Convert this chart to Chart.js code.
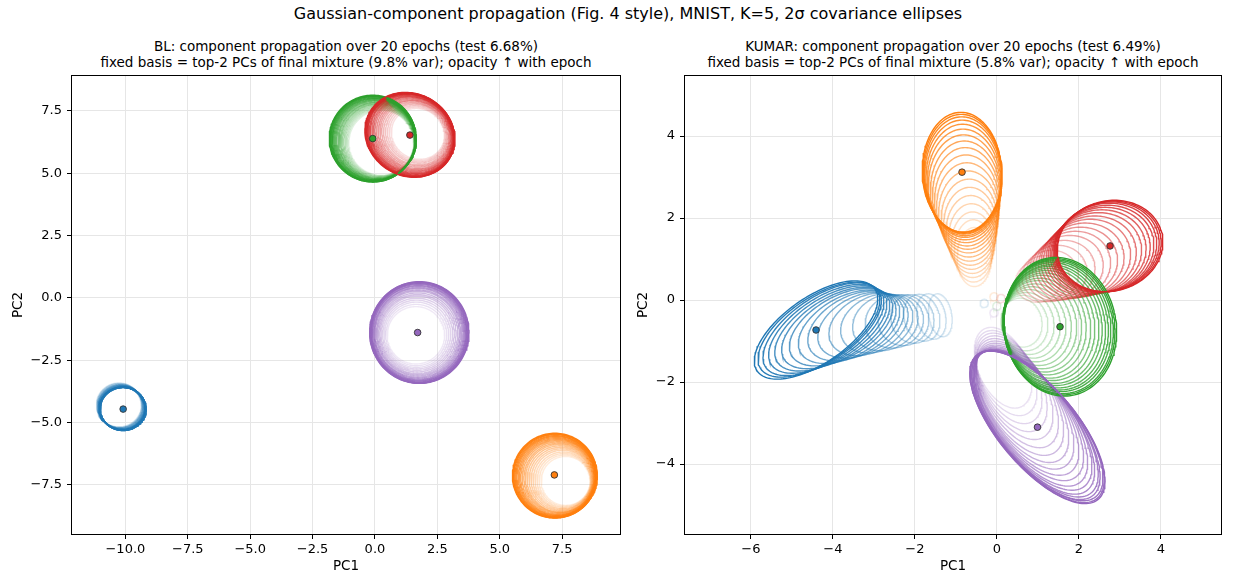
<!DOCTYPE html>
<html><head><meta charset="utf-8">
<script src="https://cdn.jsdelivr.net/npm/chart.js@4/dist/chart.umd.min.js"></script>
<style>
body{margin:0;background:#fff;width:1238px;height:575px;overflow:hidden;position:relative;font-family:"DejaVu Sans",sans-serif;}
canvas{position:absolute;top:0;}
.t{position:absolute;white-space:nowrap;transform:translateX(-50%);text-align:center;color:#000;}
</style></head><body>
<div class="t" style="left:628px;top:4px;font-size:16px;line-height:19px;">Gaussian-component propagation (Fig. 4 style), MNIST, K=5, 2σ covariance ellipses</div>
<div class="t" style="left:346px;top:39px;font-size:13.5px;line-height:15.5px;">BL: component propagation over 20 epochs (test 6.68%)<br>fixed basis = top-2 PCs of final mixture (9.8% var); opacity ↑ with epoch</div>
<div class="t" style="left:953px;top:39px;font-size:13.5px;line-height:15.5px;">KUMAR: component propagation over 20 epochs (test 6.49%)<br>fixed basis = top-2 PCs of final mixture (5.8% var); opacity ↑ with epoch</div>
<canvas id="c1" width="640" height="575" style="left:0"></canvas>
<canvas id="c2" width="610" height="575" style="left:628px"></canvas>
<script>
const EPOCHS = 20;
const componentColors = ['#1f77b4','#ff7f0e','#2ca02c','#d62728','#9467bd'];
const blXTicks = [-10,-7.5,-5,-2.5,0,2.5,5,7.5];
const blYTicks = [-7.5,-5,-2.5,0,2.5,5,7.5];
const kuXTicks = [-6,-4,-2,0,2,4];
const kuYTicks = [-4,-2,0,2,4];

// each row: [centre PC1, centre PC2, semi-axis a, semi-axis b, angle of a (deg)], one row per epoch
const blBlue = [
[-10.26,-4.29,0.90,0.88,0],[-10.25,-4.31,0.90,0.88,0],[-10.23,-4.32,0.90,0.88,0],[-10.22,-4.34,0.90,0.87,0],
[-10.20,-4.35,0.90,0.87,0],[-10.19,-4.36,0.90,0.87,0],[-10.18,-4.38,0.91,0.87,0],[-10.16,-4.39,0.91,0.87,0],
[-10.15,-4.40,0.91,0.87,0],[-10.14,-4.41,0.91,0.86,0],[-10.13,-4.42,0.91,0.86,0],[-10.12,-4.43,0.92,0.86,0],
[-10.12,-4.43,0.92,0.86,0],[-10.11,-4.44,0.92,0.86,0],[-10.11,-4.44,0.92,0.86,0],[-10.10,-4.45,0.92,0.86,0],
[-10.10,-4.45,0.92,0.86,0],[-10.10,-4.45,0.92,0.86,0],[-10.09,-4.46,0.92,0.86,0],[-10.09,-4.46,0.92,0.86,0]];
const blOrange = [
[7.64,-7.34,0.98,0.98,0],[7.61,-7.33,1.03,1.03,0],[7.58,-7.32,1.08,1.08,0],[7.55,-7.31,1.13,1.13,0],
[7.52,-7.29,1.18,1.18,0],[7.49,-7.28,1.23,1.23,0],[7.46,-7.27,1.28,1.28,0],[7.43,-7.26,1.33,1.33,0],
[7.40,-7.24,1.37,1.37,0],[7.38,-7.23,1.41,1.41,0],[7.35,-7.22,1.45,1.45,0],[7.33,-7.21,1.49,1.49,0],
[7.31,-7.20,1.52,1.52,0],[7.29,-7.19,1.55,1.55,0],[7.27,-7.18,1.58,1.58,0],[7.26,-7.17,1.61,1.61,0],
[7.24,-7.16,1.63,1.63,0],[7.23,-7.15,1.66,1.66,0],[7.22,-7.14,1.68,1.68,0],[7.21,-7.13,1.70,1.70,0]];
const blGreen = [
[0.25,6.22,1.30,1.30,0],[0.23,6.23,1.33,1.33,0],[0.21,6.24,1.36,1.36,0],[0.19,6.25,1.39,1.39,0],
[0.17,6.26,1.42,1.42,0],[0.15,6.27,1.45,1.45,0],[0.13,6.28,1.48,1.48,0],[0.11,6.29,1.50,1.50,0],
[0.09,6.30,1.53,1.53,0],[0.07,6.31,1.55,1.55,0],[0.05,6.32,1.58,1.58,0],[0.03,6.33,1.60,1.60,0],
[0.01,6.34,1.62,1.62,0],[-0.01,6.35,1.64,1.64,0],[-0.03,6.35,1.66,1.66,0],[-0.04,6.36,1.68,1.68,0],
[-0.05,6.37,1.70,1.70,0],[-0.07,6.38,1.71,1.71,0],[-0.08,6.38,1.73,1.73,0],[-0.09,6.39,1.74,1.74,0]];
const blRed = [
[1.72,6.58,1.08,1.00,-30],[1.70,6.58,1.14,1.05,-30],[1.68,6.58,1.20,1.10,-30],[1.66,6.58,1.26,1.15,-30],
[1.64,6.57,1.32,1.20,-30],[1.62,6.57,1.38,1.24,-30],[1.60,6.57,1.43,1.29,-30],[1.58,6.56,1.48,1.33,-30],
[1.56,6.56,1.53,1.37,-30],[1.54,6.56,1.58,1.41,-30],[1.52,6.56,1.62,1.45,-30],[1.50,6.55,1.66,1.48,-30],
[1.48,6.55,1.70,1.51,-30],[1.47,6.55,1.73,1.54,-30],[1.45,6.55,1.76,1.57,-30],[1.44,6.54,1.78,1.59,-30],
[1.43,6.54,1.80,1.61,-30],[1.42,6.54,1.82,1.63,-30],[1.41,6.54,1.84,1.64,-30],[1.40,6.54,1.85,1.65,-30]];
const blPurple = [
[1.64,-1.50,1.15,1.15,0],[1.65,-1.49,1.22,1.23,0],[1.66,-1.48,1.29,1.31,0],[1.67,-1.47,1.36,1.38,0],
[1.68,-1.46,1.43,1.45,0],[1.69,-1.45,1.49,1.52,0],[1.70,-1.45,1.55,1.58,0],[1.71,-1.44,1.61,1.64,0],
[1.72,-1.43,1.66,1.70,0],[1.72,-1.43,1.71,1.75,0],[1.73,-1.42,1.75,1.80,0],[1.74,-1.42,1.79,1.84,0],
[1.74,-1.41,1.83,1.88,0],[1.75,-1.41,1.86,1.91,0],[1.75,-1.40,1.89,1.94,0],[1.76,-1.40,1.91,1.97,0],
[1.76,-1.40,1.93,1.99,0],[1.77,-1.39,1.95,2.01,0],[1.77,-1.39,1.97,2.03,0],[1.78,-1.39,1.99,2.04,0]];
const blMeans = [[-10.09,-4.46],[7.19,-7.10],[-0.09,6.39],[1.40,6.53],[1.71,-1.39]];

const kuBlue = [
[-0.31,-0.08,0.10,0.10,0],[-1.38,-0.37,0.28,0.53,10],[-1.60,-0.40,0.35,0.56,12],[-1.83,-0.43,0.43,0.58,15],
[-2.06,-0.46,0.52,0.60,17],[-2.28,-0.49,0.62,0.62,19],[-2.50,-0.52,0.72,0.64,21],[-2.72,-0.55,0.82,0.66,23],
[-2.93,-0.57,0.92,0.67,25],[-3.13,-0.59,1.02,0.69,26],[-3.32,-0.61,1.12,0.70,27],[-3.49,-0.63,1.21,0.72,28],
[-3.65,-0.65,1.30,0.73,29],[-3.80,-0.66,1.39,0.74,30],[-3.93,-0.68,1.47,0.75,31],[-4.05,-0.69,1.54,0.76,32],
[-4.16,-0.70,1.60,0.77,33],[-4.26,-0.71,1.66,0.78,34],[-4.34,-0.72,1.71,0.79,34],[-4.41,-0.73,1.75,0.80,35]];
const kuOrange = [
[-0.07,0.08,0.10,0.10,0],[-0.55,1.05,0.72,0.42,90],[-0.57,1.20,0.76,0.47,90],[-0.59,1.35,0.80,0.52,90],
[-0.61,1.50,0.85,0.57,91],[-0.63,1.65,0.90,0.61,91],[-0.65,1.80,0.95,0.65,91],[-0.67,1.95,1.00,0.69,91],
[-0.69,2.10,1.05,0.73,91],[-0.71,2.25,1.10,0.76,92],[-0.73,2.39,1.15,0.79,92],[-0.75,2.52,1.20,0.82,92],
[-0.77,2.64,1.24,0.85,92],[-0.79,2.75,1.28,0.88,92],[-0.80,2.85,1.32,0.90,92],[-0.81,2.93,1.36,0.92,92],
[-0.82,3.00,1.39,0.94,92],[-0.83,3.05,1.42,0.95,92],[-0.84,3.09,1.44,0.96,92],[-0.85,3.12,1.46,0.97,92]];
const kuGreen = [
[0.00,-0.15,0.10,0.10,0],[0.60,-0.55,0.60,0.50,100],[0.68,-0.56,0.68,0.56,100],[0.76,-0.57,0.76,0.63,100],
[0.84,-0.58,0.84,0.70,100],[0.91,-0.59,0.92,0.77,100],[0.98,-0.60,1.00,0.83,100],[1.05,-0.60,1.08,0.89,100],
[1.11,-0.61,1.15,0.95,100],[1.17,-0.61,1.22,1.00,100],[1.23,-0.62,1.29,1.05,100],[1.28,-0.62,1.35,1.10,100],
[1.33,-0.63,1.41,1.15,100],[1.37,-0.63,1.46,1.19,100],[1.41,-0.64,1.51,1.23,100],[1.44,-0.64,1.56,1.27,100],
[1.47,-0.64,1.60,1.30,100],[1.50,-0.65,1.64,1.33,100],[1.52,-0.65,1.67,1.35,100],[1.54,-0.65,1.70,1.37,100]];
const kuRed = [
[0.10,0.04,0.10,0.10,0],[1.00,0.45,0.55,0.50,15],[1.15,0.52,0.62,0.56,15],[1.30,0.59,0.69,0.62,15],
[1.45,0.66,0.75,0.67,15],[1.59,0.73,0.81,0.72,15],[1.73,0.80,0.87,0.77,15],[1.86,0.86,0.92,0.81,15],
[1.98,0.92,0.97,0.85,15],[2.09,0.98,1.02,0.89,15],[2.20,1.04,1.07,0.92,15],[2.30,1.09,1.11,0.95,15],
[2.39,1.14,1.15,0.98,15],[2.47,1.18,1.18,1.01,15],[2.54,1.22,1.21,1.03,15],[2.60,1.25,1.24,1.05,15],
[2.65,1.28,1.26,1.07,15],[2.69,1.30,1.28,1.08,15],[2.73,1.31,1.29,1.09,15],[2.76,1.32,1.30,1.10,15]];
const kuPurple = [
[-0.07,-0.31,0.10,0.10,0],[0.15,-1.65,1.05,0.60,115],[0.22,-1.78,1.12,0.63,117],[0.29,-1.91,1.20,0.66,118],
[0.36,-2.04,1.28,0.69,119],[0.43,-2.17,1.37,0.72,121],[0.50,-2.30,1.46,0.75,122],[0.56,-2.42,1.55,0.78,123],
[0.62,-2.53,1.64,0.80,124],[0.68,-2.63,1.73,0.82,125],[0.73,-2.72,1.82,0.84,126],[0.78,-2.80,1.90,0.86,127],
[0.83,-2.87,1.98,0.88,127],[0.87,-2.93,2.05,0.90,128],[0.90,-2.98,2.11,0.91,128],[0.93,-3.02,2.17,0.92,129],
[0.95,-3.05,2.21,0.93,129],[0.97,-3.07,2.25,0.94,130],[0.98,-3.09,2.28,0.95,130],[0.99,-3.10,2.30,0.95,130]];
const kuMeans = [[-4.41,-0.73],[-0.85,3.12],[1.54,-0.65],[2.76,1.32],[0.99,-3.10]];

Chart.defaults.font.family = '"DejaVu Sans", sans-serif';
Chart.defaults.color = '#000';

function rgba(hex, a){
  const n = parseInt(hex.slice(1), 16);
  return `rgba(${(n>>16)&255},${(n>>8)&255},${n&255},${a.toFixed(3)})`;
}
function outline(p){
  const [cx, cy, a, b, deg] = p;
  const t = deg*Math.PI/180, c = Math.cos(t), s = Math.sin(t);
  const pts = [];
  for (let i = 0; i <= 144; i++){
    const u = i/144*2*Math.PI, ex = a*Math.cos(u), ey = b*Math.sin(u);
    pts.push({x: cx + ex*c - ey*s, y: cy + ex*s + ey*c});
  }
  return pts;
}
const fmtTick = dec => v => Number(v).toFixed(dec).replace('-', '\u2212');

const framePlugin = {
  id: 'frame',
  afterDatasetsDraw(chart){
    const {ctx, chartArea: a} = chart;
    ctx.save();
    ctx.strokeStyle = '#000';
    ctx.lineWidth = 1;
    ctx.strokeRect(Math.round(a.left)+0.5, Math.round(a.top)+0.5, Math.round(a.right)-Math.round(a.left)-1, Math.round(a.bottom)-Math.round(a.top)-1);
    ctx.restore();
  }
};

function build(id, comps, means, xr, yr, xt, yt, dec, yW, padR, yTitlePad){
  const ds = [];
  let k = 0;
  for (let e = 0; e < EPOCHS; e++){
    for (let c = 0; c < comps.length; c++){
      ds.push({
        data: outline(comps[c][e]), showLine: true,
        borderColor: rgba(componentColors[c], 0.15 + 0.85*e/(EPOCHS-1)),
        borderWidth: 1.4, pointRadius: 0, pointHoverRadius: 0, fill: false, tension: 0,
        order: 1000 - k
      });
      k++;
    }
  }
  ds.push({
    data: means.map(m => ({x: m[0], y: m[1]})), showLine: false,
    pointRadius: 3.3, pointBackgroundColor: componentColors.slice(),
    pointBorderColor: '#333', pointBorderWidth: 0.9, order: 0
  });
  const gridOpts = {color: '#e6e6e6', lineWidth: 1, tickColor: '#000', tickLength: 4, drawTicks: true};
  return new Chart(document.getElementById(id), {
    type: 'scatter',
    data: {datasets: ds},
    plugins: [framePlugin],
    options: {
      responsive: false, animation: false, events: [], parsing: false,
      layout: {padding: {top: 75, left: 0, right: padR, bottom: 0}},
      plugins: {legend: {display: false}, tooltip: {enabled: false}, title: {display: false}},
      scales: {
        x: {
          type: 'linear', min: xr[0], max: xr[1],
          afterBuildTicks: s => { s.ticks = xt.map(v => ({value: v})); },
          afterFit: s => { s.height = 40; },
          grid: gridOpts, border: {display: false},
          ticks: {font: {size: 13}, padding: 3, maxRotation: 0, autoSkip: false, callback: fmtTick(dec)},
          title: {display: true, text: 'PC1', font: {size: 13.5}, padding: {top: 0, bottom: 0}}
        },
        y: {
          type: 'linear', min: yr[0], max: yr[1],
          afterBuildTicks: s => { s.ticks = yt.map(v => ({value: v})); },
          afterFit: s => { s.width = yW; },
          grid: gridOpts, border: {display: false},
          ticks: {font: {size: 13}, padding: 5, autoSkip: false, callback: fmtTick(dec)},
          title: {display: true, text: 'PC2', font: {size: 13.5}, padding: {top: yTitlePad, bottom: 0}}
        }
      }
    }
  });
}

build('c1', [blBlue, blOrange, blGreen, blRed, blPurple], blMeans, [-12.18, 9.86], [-9.51, 8.94], blXTicks, blYTicks, 1, 71, 19, 10);
build('c2', [kuBlue, kuOrange, kuGreen, kuRed, kuPurple], kuMeans, [-7.63, 5.49], [-5.73, 5.49], kuXTicks, kuYTicks, 0, 56, 16, 7);
</script>
</body></html>
